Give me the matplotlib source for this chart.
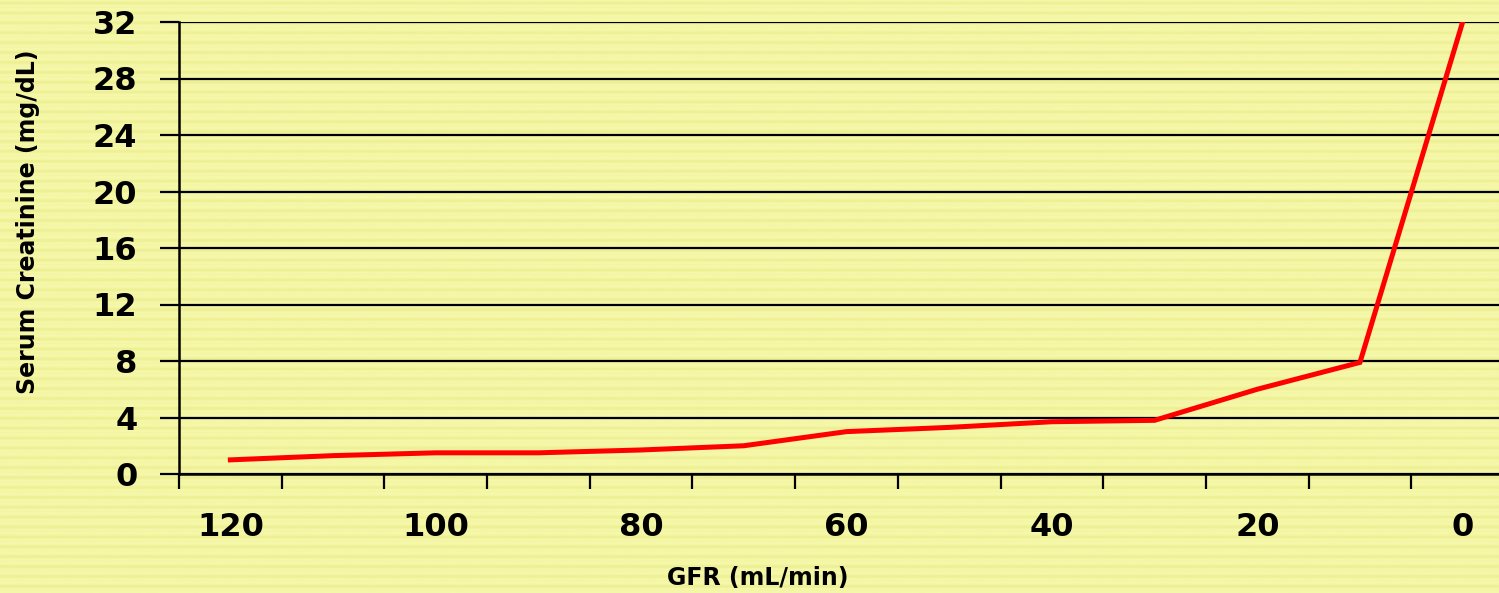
import numpy as np
import matplotlib.pyplot as plt

# GFR categories (mL/min) and serum creatinine (mg/dL)
gfr = [120, 110, 100, 90, 80, 70, 60, 50, 40, 30, 20, 10, 0]
creatinine = [1.0, 1.3, 1.5, 1.5, 1.7, 2.0, 3.0, 3.3, 3.7, 3.8, 6.0, 7.9, 32.0]
y_ticks = [0, 4, 8, 12, 16, 20, 24, 28, 32]
x_labels = ["120", "100", "80", "60", "40", "20", "0"]

font = ["DejaVu Sans"]

fig = plt.figure(figsize=(14.99, 5.93), dpi=100)

# striped yellow background
bg = fig.add_axes([0, 0, 1, 1], zorder=-10)
stripe = np.array([[0.0], [0.3], [1.0], [1.0], [0.6], [0.0], [0.0], [0.2], [0.0], [0.0]])
stripes = np.tile(stripe, (60, 1))
bg.imshow(stripes, aspect="auto", cmap=plt.matplotlib.colors.LinearSegmentedColormap.from_list(
    "bgy", ["#F5F7A9", "#EEF093"]), vmin=0, vmax=1, interpolation="bilinear")
bg.axis("off")

ax = fig.add_axes([179 / 1499, 119 / 593, 1335 / 1499, 452 / 593])
ax.patch.set_alpha(0)

idx = np.arange(len(gfr))
ax.plot(idx, creatinine, color="#FF0000", lw=3.6, solid_joinstyle="miter", zorder=3)

ax.set_xlim(-0.5, len(gfr) - 0.5)
ax.set_ylim(0, 32)

ax.set_yticks(y_ticks)
ax.set_yticklabels([str(v) for v in y_ticks], family=font, fontweight="bold", fontsize=23)
ax.yaxis.grid(True, color="black", lw=1.6)
ax.set_axisbelow(True)

ax.set_xticks(np.arange(-0.5, len(gfr)), labels=[])
ax.set_xticks(idx[::2], labels=x_labels, minor=True)
for lab in ax.get_xticklabels(minor=True):
    lab.set_family(font)
    lab.set_fontweight("bold")
    lab.set_fontsize(23)
ax.tick_params(axis="x", which="minor", length=0, pad=27)
ax.tick_params(axis="x", which="major", length=11, width=1.6, direction="out")
ax.tick_params(axis="y", length=14, width=1.6, pad=16)

for s in ["top", "right"]:
    ax.spines[s].set_visible(False)
for s in ["left", "bottom"]:
    ax.spines[s].set_linewidth(1.8)

fig.text(28 / 1499, 1 - 222 / 593, "Serum Creatinine (mg/dL)", rotation=90,
         ha="center", va="center", family=font, fontweight="bold", fontsize=17)
fig.text(758 / 1499, 1 - 578 / 593, "GFR (mL/min)", ha="center", va="center",
         family=font, fontweight="bold", fontsize=17)

fig.savefig("out.png", dpi=100)
